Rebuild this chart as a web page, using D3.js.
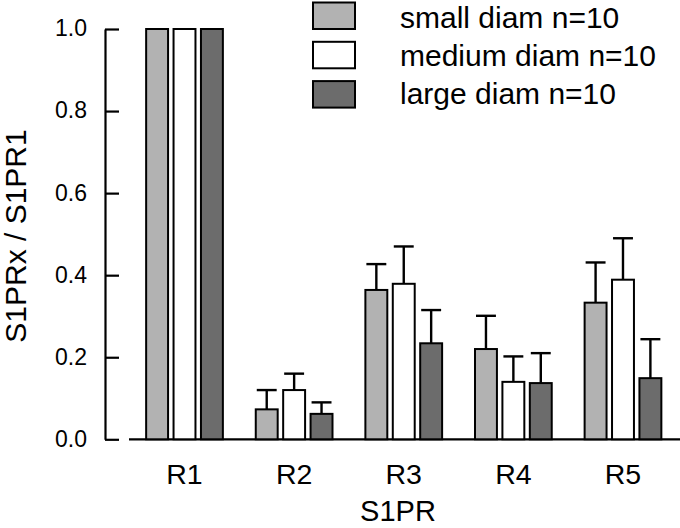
<!DOCTYPE html>
<html>
<head>
<meta charset="utf-8">
<script src="https://cdn.jsdelivr.net/npm/d3@7/dist/d3.min.js"></script>
<style>
  html, body { margin: 0; padding: 0; background: #fff; }
  svg { display: block; }
  text { font-family: Arial, "Liberation Sans", Helvetica, sans-serif; fill: #000; }
</style>
</head>
<body>
<svg id="chart" width="680" height="528"></svg>
<script>
const categories = ["R1", "R2", "R3", "R4", "R5"];
const seriesNames = ["small diam n=10", "medium diam n=10", "large diam n=10"];
const smallValues  = [1.0, 0.073, 0.364, 0.220, 0.333];
const mediumValues = [1.0, 0.120, 0.379, 0.140, 0.389];
const largeValues  = [1.0, 0.062, 0.234, 0.137, 0.149];
const smallErr  = [0, 0.047, 0.063, 0.081, 0.098];
const mediumErr = [0, 0.040, 0.091, 0.062, 0.101];
const largeErr  = [0, 0.028, 0.081, 0.073, 0.095];
const yTicks = [0.0, 0.2, 0.4, 0.6, 0.8, 1.0];
const colors = ["#b2b2b2", "#ffffff", "#6c6c6c"];

const values = [smallValues, mediumValues, largeValues];
const errs = [smallErr, mediumErr, largeErr];

const svg = d3.select("#chart");

const y = d3.scaleLinear().domain([0, 1]).range([439.3, 29]);
const x0 = d3.scaleBand().domain(categories).range([129.7, 677.8]).paddingInner(0.3).paddingOuter(0.15);
const x1 = d3.scaleBand().domain(seriesNames).range([0, x0.bandwidth()]).paddingInner(0.2);

// Y axis
const yAxis = d3.axisRight(y).tickValues(yTicks).tickFormat(d3.format(".1f")).tickSize(14).tickSizeOuter(0);
const yg = svg.append("g").attr("transform", "translate(105,0)").call(yAxis);
yg.select(".domain").attr("stroke", "#000").attr("stroke-width", 2.2);
yg.selectAll(".tick line").attr("stroke", "#000").attr("stroke-width", 2.2);
yg.selectAll(".tick text")
  .attr("x", -18).attr("dy", "0.3em")
  .attr("text-anchor", "end")
  .style("font-size", "23px").style("font-family", "Arial, 'Liberation Sans', sans-serif");

// X axis
const xAxis = d3.axisBottom(x0).tickSize(0).tickSizeOuter(0);
const xg = svg.append("g").attr("transform", "translate(0,439.3)").call(xAxis);
xg.select(".domain").attr("stroke", "#000").attr("stroke-width", 2.2).attr("d", "M129,0H680");
xg.selectAll(".tick text").attr("y", 45).attr("dy", 0)
  .style("font-size", "28.5px").style("font-family", "Arial, 'Liberation Sans', sans-serif");

// Bars
const groups = svg.append("g").selectAll("g").data(categories).join("g")
  .attr("transform", d => `translate(${x0(d)},0)`);

groups.each(function(cat, ci) {
  const g = d3.select(this);
  seriesNames.forEach((s, si) => {
    const v = values[si][ci];
    const e = errs[si][ci];
    const bx = x1(s);
    const bw = x1.bandwidth();
    if (e > 0) {
      g.append("line")
        .attr("x1", bx + bw / 2).attr("x2", bx + bw / 2)
        .attr("y1", y(v)).attr("y2", y(v + e))
        .attr("stroke", "#000").attr("stroke-width", 2.4);
      g.append("line")
        .attr("x1", bx + 1).attr("x2", bx + bw - 1)
        .attr("y1", y(v + e)).attr("y2", y(v + e))
        .attr("stroke", "#000").attr("stroke-width", 2.4);
    }
    g.append("rect")
      .attr("x", bx).attr("width", bw)
      .attr("y", y(v)).attr("height", y(0) - y(v))
      .attr("fill", colors[si]).attr("stroke", "#000").attr("stroke-width", 2);
  });
});

// Axis titles
svg.append("text")
  .attr("transform", "translate(26,236) rotate(-90)")
  .attr("text-anchor", "middle")
  .style("font-size", "30px")
  .text("S1PRx / S1PR1");

svg.append("text")
  .attr("x", 398).attr("y", 521)
  .attr("text-anchor", "middle")
  .style("font-size", "29px")
  .text("S1PR");

// Legend
const legend = svg.append("g");
seriesNames.forEach((s, i) => {
  legend.append("rect")
    .attr("x", 313).attr("y", 2.5 + i * 39.3)
    .attr("width", 42).attr("height", 26.5)
    .attr("fill", colors[i]).attr("stroke", "#000").attr("stroke-width", 2);
  legend.append("text")
    .attr("x", 400).attr("y", 27.5 + i * 38.2)
    .style("font-size", "30px")
    .text(s);
});
</script>
</body>
</html>
